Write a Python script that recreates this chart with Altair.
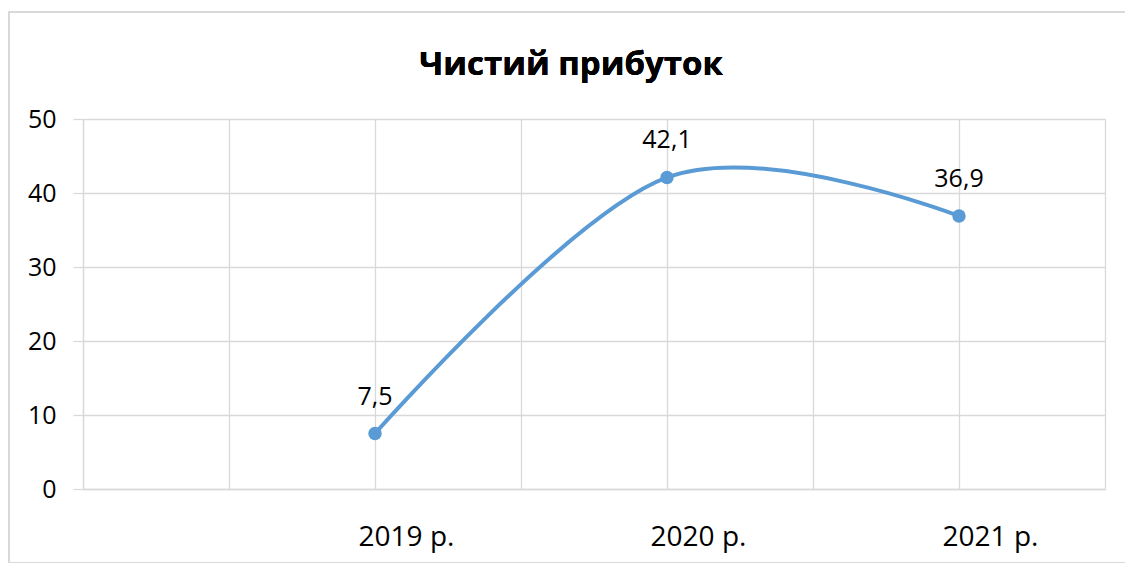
import json
import altair as alt
import pandas as pd

categories = ["2019 р.", "2020 р.", "2021 р."]
values = [7.5, 42.1, 36.9]
y_ticks = [0, 10, 20, 30, 40, 50]
title_text = "Чистий прибуток"

FONT = "Open Sans"
BLUE = "#5B9BD5"
GRID = "#D9D9D9"

df = pd.DataFrame({
    "cat": categories,
    "slot": [2 * (i + 1) for i in range(len(categories))],
    "value": values,
    "label": [f"{v}".replace(".", ",") for v in values],
})

label_expr = json.dumps(categories) + "[datum.value / 2 - 1] || ''"

x_enc = alt.X(
    "slot:Q",
    scale=alt.Scale(domain=[0, 7], nice=False, zero=False),
    axis=alt.Axis(
        values=list(range(0, 8)),
        labelExpr=label_expr,
        title=None,
        grid=True,
        gridColor=GRID,
        gridWidth=1.3,
        ticks=False,
        domain=True,
        domainColor=GRID,
        domainWidth=1.3,
        labelFont=FONT,
        labelFontSize=28,
        labelColor="#000000",
        labelPadding=34,
        labelOffset=31,
        labelFlush=False,
    ),
)
y_enc = alt.Y(
    "value:Q",
    scale=alt.Scale(domain=[0, 50], nice=False),
    axis=alt.Axis(
        values=y_ticks,
        title=None,
        grid=True,
        gridColor=GRID,
        gridWidth=1.3,
        ticks=True,
        tickSize=10,
        tickColor=GRID,
        tickWidth=1.3,
        domain=True,
        domainColor=GRID,
        domainWidth=1.3,
        labelFont=FONT,
        labelFontSize=25,
        labelColor="#000000",
        labelPadding=17,
    ),
)

base = alt.Chart(df)

border = base.mark_rect(filled=False, stroke="#D9D9D9", strokeWidth=1.5).encode(
    x=alt.value(-74),
    x2=alt.value(1080),
    y=alt.value(-107),
    y2=alt.value(444),
)

line = base.mark_line(
    interpolate="cardinal", color=BLUE, strokeWidth=4
).encode(x=x_enc, y=y_enc)

points = base.mark_point(
    filled=True, size=180, color=BLUE, opacity=1, shape="circle"
).encode(x="slot:Q", y="value:Q")

labels = base.mark_text(
    font=FONT, fontSize=25, color="#000000", dy=-29, baseline="alphabetic"
).encode(x="slot:Q", y="value:Q", text="label:N")

title = base.mark_text(
    font=FONT, fontSize=33, fontWeight="bold", color="#000000",
    align="center", baseline="alphabetic",
).encode(
    x=alt.value(488),
    y=alt.value(-44),
    text=alt.value(title_text),
)

chart = alt.layer(border, line, points, labels, title).properties(
    width=1022,
    height=370,
    autosize=alt.AutoSizeParams(type="none"),
    padding={"left": 75, "top": 111, "right": 20, "bottom": 74},
).configure_view(stroke=None).configure(background="white")

chart.save("out.html", embed_options={"renderer": "svg", "actions": False})
